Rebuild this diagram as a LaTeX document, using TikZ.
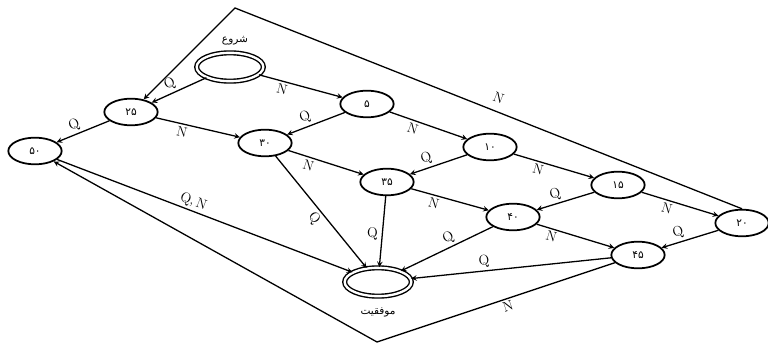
\documentclass[tikz,border=0pt]{standalone}
\usepackage{fontspec}
\usepackage{tikz}
\usetikzlibrary{shapes,arrows}
\newfontfamily\fa[Script=Arabic]{DejaVu Sans}
\TeXXeTstate=1
\tikzstyle{arrow} = [line width=1.1pt,->,>=stealth]
\tikzstyle{state} = [ellipse, draw=black, line width=1.5pt, minimum width=1.6cm, minimum height=0.8cm, inner sep=0pt, font=\fa\small]
\tikzstyle{final} = [ellipse, draw=black, double, double distance=2pt, line width=1.2pt, minimum width=2cm, minimum height=0.85cm]
\tikzstyle{lab} = [sloped, inner sep=2pt, font=\large]

\begin{document}
\begin{tikzpicture}[x=0.03cm, y=-0.03cm]
        \useasboundingbox (0,0) rectangle (768,346);

        % stati
        \node (0) [final] at (230,67) {};
        \node (5) [state] at (367,104) {۵};
        \node (25) [state] at (131,112) {۲۵};
        \node (50) [state] at (35,151) {۵۰};
        \node (30) [state] at (265,143) {۳۰};
        \node (10) [state] at (490,147) {۱۰};
        \node (35) [state] at (387,182) {۳۵};
        \node (40) [state] at (513,217) {۴۰};
        \node (15) [state] at (618,185) {۱۵};
        \node (20) [state] at (742,223) {۲۰};
        \node (45) [state] at (638,255) {۴۵};
        \node (F) [final] at (378,282) {};

        \node (S) at (235,41) {\fa\small\beginR شروع\endR};
        \node (E) at (378,312) {\fa\small\beginR موفقیت\endR};

        \coordinate (A) at (235,8);
        \coordinate (B) at (377,342);

        \draw[arrow] (0) -- node[lab, pos=0.6, above] {Q} (25);
        \draw[arrow] (0) -- node[lab, pos=0.3, below] {N} (5);
        \draw[arrow] (25) -- node[lab, pos=0.6, above] {Q} (50);
        \draw[arrow] (25) -- node[lab, pos=0.33, below] {N} (30);
        \draw[arrow] (5) -- node[lab, pos=0.63, above] {Q} (30);
        \draw[arrow] (5) -- node[lab, pos=0.33, below] {N} (10);
        \draw[arrow] (10) -- node[lab, pos=0.66, above] {Q} (35);
        \draw[arrow] (10) -- node[lab, pos=0.33, below] {N} (15);
        \draw[arrow] (30) -- node[lab, pos=0.3, below] {N} (35);
        \draw[arrow] (15) -- node[lab, pos=0.63, above] {Q} (40);
        \draw[arrow] (15) -- node[lab, pos=0.36, below] {N} (20);
        \draw[arrow] (35) -- node[lab, pos=0.32, below] {N} (40);
        \draw[arrow] (20) -- node[lab, pos=0.66, above] {Q} (45);
        \draw[arrow] (40) -- node[lab, pos=0.22, below] {N} (45);

        % verso lo stato finale
        \draw[arrow] (30) -- node[lab, pos=0.5, below] {Q} (F);
        \draw[arrow] (35) -- node[pos=0.53, left, font=\large] {Q} (F);
        \draw[arrow] (40) -- node[lab, pos=0.44, above] {Q} (F);
        \draw[arrow] (45) -- node[lab, pos=0.63, above] {Q} (F);
        \draw[arrow] (50) -- node[lab, pos=0.45, above] {Q,\,N} (F);

        % archi esterni
        \draw[arrow] (20.north) -- node[lab, pos=0.49, above=5pt] {N} (A) -- (25);
        \draw[arrow] (45) -- node[lab, pos=0.46, below] {N} (B) -- (50);

    \end{tikzpicture}
\end{document}
